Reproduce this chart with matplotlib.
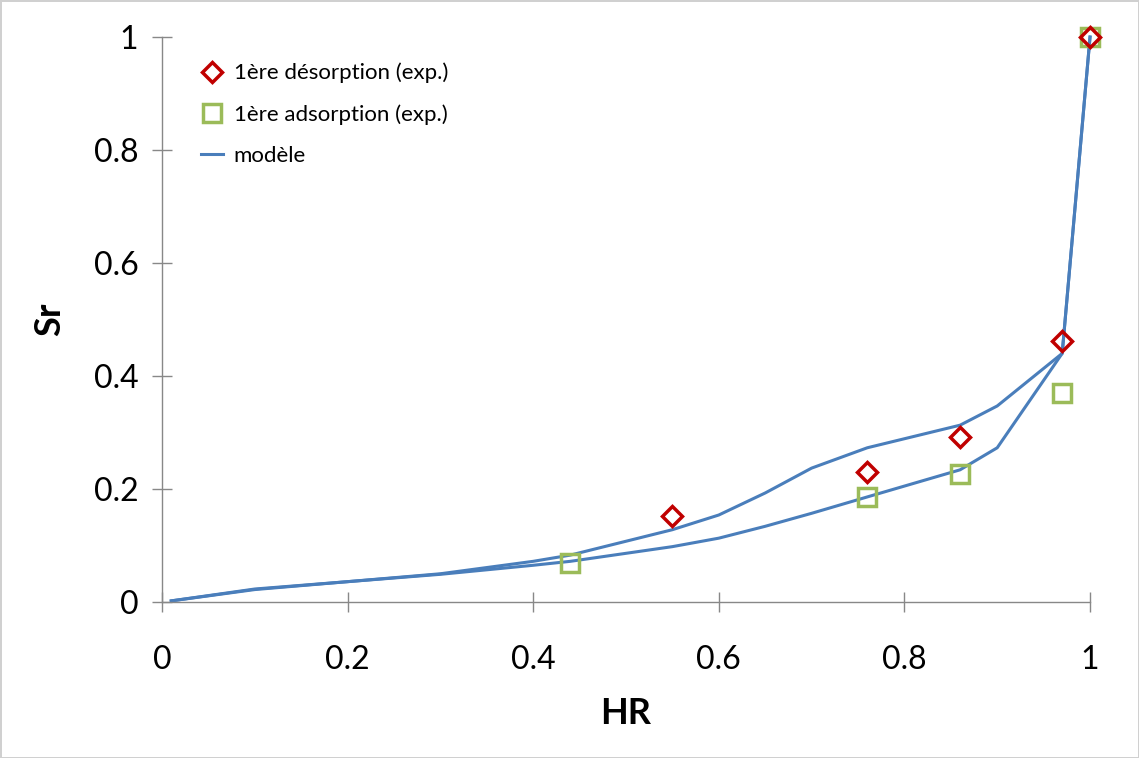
import matplotlib.pyplot as plt

plt.rcParams['font.family'] = ['Lato', 'DejaVu Sans']

# model curves (desorption branch / adsorption branch)
hr_model = [0.01, 0.1, 0.2, 0.3, 0.4, 0.44, 0.55, 0.6, 0.65, 0.7, 0.76, 0.86, 0.9, 0.97, 1.0]
sr_model_des = [0.002, 0.023, 0.036, 0.050, 0.072, 0.083, 0.128, 0.154, 0.193, 0.237, 0.273, 0.313, 0.347, 0.44, 1.0]
sr_model_ads = [0.002, 0.022, 0.036, 0.049, 0.065, 0.072, 0.098, 0.113, 0.134, 0.157, 0.186, 0.234, 0.273, 0.44, 1.0]

# experimental points
hr_des = [0.55, 0.76, 0.86, 0.97, 1.0]
sr_des = [0.152, 0.230, 0.292, 0.462, 1.0]
hr_ads = [0.44, 0.76, 0.86, 0.97, 1.0]
sr_ads = [0.069, 0.186, 0.227, 0.370, 1.0]

ticks = [0, 0.2, 0.4, 0.6, 0.8, 1]
tick_labels = ['0', '0.2', '0.4', '0.6', '0.8', '1']

fig = plt.figure(figsize=(11.39, 7.58), dpi=100)
fig.patch.set_edgecolor('#d0d0d0')
fig.patch.set_linewidth(2)
ax = fig.add_axes([0.1422, 0.2058, 0.8148, 0.7453])

blue = '#4a7ebb'
ax.plot(hr_model, sr_model_des, color=blue, lw=2.2, label='modèle', zorder=2, clip_on=False)
ax.plot(hr_model, sr_model_ads, color=blue, lw=2.2, zorder=2, clip_on=False)
ax.plot(hr_ads, sr_ads, ls='none', marker='s', ms=13, mfc='none', mec='#9bbb59', mew=2.5,
        label='1ère adsorption (exp.)', zorder=3, clip_on=False)
ax.plot(hr_des, sr_des, ls='none', marker='D', ms=10, mfc='none', mec='#c00000', mew=2.5,
        label='1ère désorption (exp.)', zorder=4, clip_on=False)

ax.set_xlim(0, 1)
ax.set_ylim(0, 1)
ax.set_xticks(ticks)
ax.set_xticklabels(tick_labels)
ax.set_yticks(ticks)
ax.set_yticklabels(tick_labels)
ax.tick_params(labelsize=23, direction='inout', length=14, width=1, color='#888888')
ax.tick_params(axis='x', pad=24)
ax.tick_params(axis='y', pad=10)
for s in ['top', 'right']:
    ax.spines[s].set_visible(False)
for s in ['left', 'bottom']:
    ax.spines[s].set_color('#888888')
    ax.spines[s].set_linewidth(1)
ax.set_xlabel('HR', fontsize=26, fontweight='bold', labelpad=16)
ax.set_ylabel('Sr', fontsize=26, fontweight='bold', labelpad=20)

handles, labels = ax.get_legend_handles_labels()
order = [2, 1, 0]
ax.legend([handles[i] for i in order], [labels[i] for i in order], loc='upper left',
          bbox_to_anchor=(0.02, 0.99), frameon=False, fontsize=16, handlelength=1.0,
          handletextpad=0.5, labelspacing=0.95)

fig.savefig('out.png', dpi=100, edgecolor=fig.get_edgecolor())
